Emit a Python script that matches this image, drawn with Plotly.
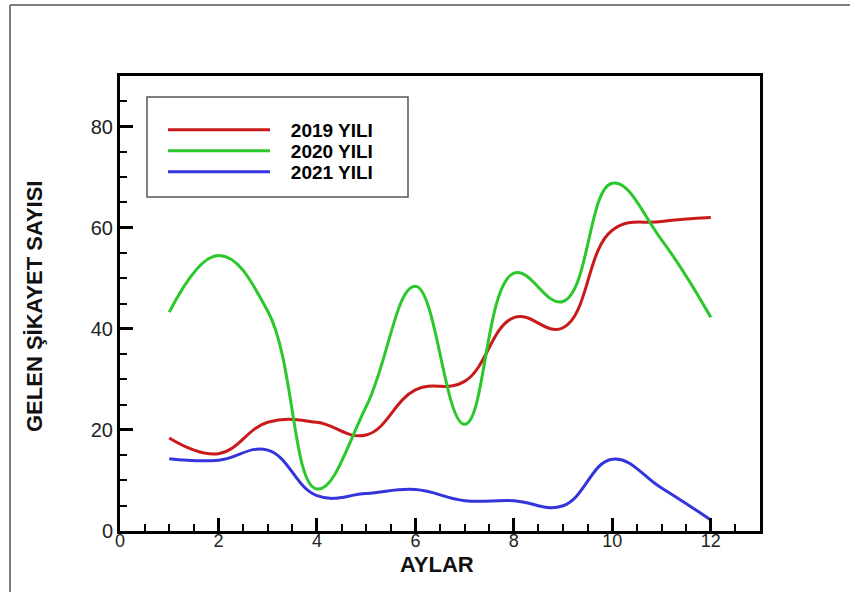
import plotly.graph_objects as go

months = [1, 2, 3, 4, 5, 6, 7, 8, 9, 10, 11, 12]
y2019 = [18.4, 15.3, 21.5, 21.5, 19.0, 27.9, 29.6, 42.2, 40.2, 59.5, 61.2, 62.0]
y2020 = [43.3, 54.5, 43.5, 8.3, 24.6, 48.4, 21.1, 51.0, 45.4, 68.8, 57.6, 42.3]
y2021 = [14.3, 14.0, 16.0, 7.0, 7.4, 8.2, 6.0, 6.0, 5.0, 14.2, 8.5, 2.2]

series_names = ["2019 YILI", "2020 YILI", "2021 YILI"]
series_colors = ["#c81a1a", "#2ac82a", "#3434dc"]

x_ticks = [0, 2, 4, 6, 8, 10, 12]
y_ticks = [0, 20, 40, 60, 80]

FONT = "Liberation Sans, Arial, sans-serif"

W, H = 850, 592
L, R, T, B = 120, 760, 76, 531

def px(xp):
    return (xp - L) / (R - L)

def py(yp):
    return (B - yp) / (B - T)

legend_ids = ["legend", "legend2", "legend3"]
legend_rows = [130, 151, 172]

fig = go.Figure()
for name, vals, col, lid in zip(series_names, [y2019, y2020, y2021], series_colors, legend_ids):
    fig.add_trace(go.Scatter(
        x=months, y=vals, name="\u00a0\u00a0\u00a0" + name, mode="lines",
        line=dict(color=col, width=3, shape="spline", smoothing=1.2),
        legend=lid,
    ))

axis_common = dict(
    showgrid=False, zeroline=False, showline=True, linecolor="black",
    linewidth=3, mirror=True, ticks="inside", tickcolor="black",
    tickwidth=2.5, ticklen=13,
)

legend_common = dict(
    xanchor="left", yanchor="middle",
    bgcolor="rgba(0,0,0,0)", borderwidth=0,
    itemwidth=102,
    font=dict(family=FONT, size=19, color="black", weight="bold"),
)

layout_legends = {}
for lid, row in zip(legend_ids, legend_rows):
    layout_legends[lid] = dict(x=px(163), y=py(row), **legend_common)

fig.update_layout(
    width=W, height=H,
    margin=dict(l=L, r=W - R, t=T, b=H - B),
    paper_bgcolor="white", plot_bgcolor="white",
    showlegend=True,
    **layout_legends,
    xaxis=dict(
        range=[0, 13], tickvals=x_ticks,
        minor=dict(dtick=0.5, ticks="inside", ticklen=7, tickwidth=1.5, tickcolor="black"),
        tickfont=dict(family=FONT, size=18, color="#222"),
        ticklabelstandoff=-9,
        **axis_common,
    ),
    yaxis=dict(
        range=[0, 90], tickvals=y_ticks,
        minor=dict(dtick=5, ticks="inside", ticklen=7, tickwidth=1.5, tickcolor="black"),
        tickfont=dict(family=FONT, size=20, color="#222"),
        **axis_common,
    ),
    annotations=[
        dict(text="<b>AYLAR</b>", xref="paper", yref="paper",
             x=px(437), y=py(564), xanchor="center", yanchor="middle",
             showarrow=False, font=dict(family=FONT, size=22, color="#111")),
        dict(text="<b>GELEN ŞİKAYET SAYISI</b>", xref="paper", yref="paper",
             x=px(34), y=py(307), xanchor="center", yanchor="middle", textangle=-90,
             showarrow=False, font=dict(family=FONT, size=22, color="#111")),
    ],
    shapes=[
        dict(type="rect", xref="paper", yref="paper",
             x0=px(147), x1=px(408), y0=py(197), y1=py(97),
             line=dict(color="#555", width=1.5), fillcolor="rgba(0,0,0,0)", layer="below"),
        dict(type="line", xref="paper", yref="paper",
             x0=px(10), x1=px(850), y0=py(5), y1=py(5),
             line=dict(color="#555", width=1.5)),
        dict(type="line", xref="paper", yref="paper",
             x0=px(10), x1=px(10), y0=py(5), y1=py(592),
             line=dict(color="#555", width=1.5)),
    ],
)

fig.write_html("out.html")
